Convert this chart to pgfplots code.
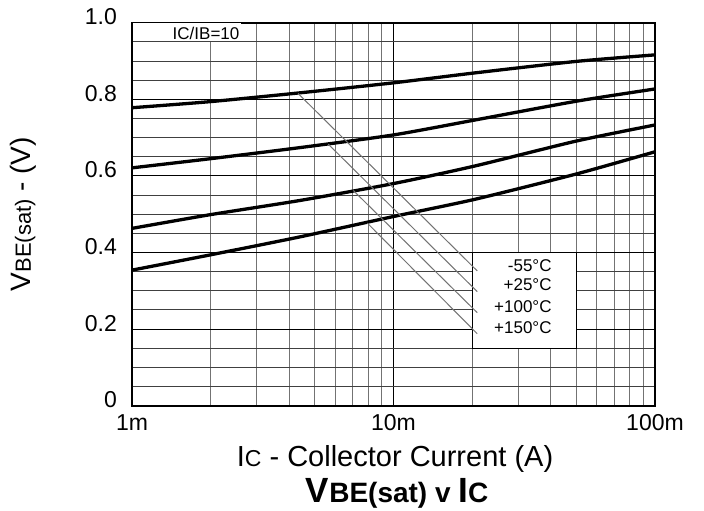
\documentclass[border=0pt]{standalone}
\usepackage{fontspec}
\setmainfont{Liberation Sans}
\usepackage{pgfplots}
\pgfplotsset{compat=1.18}

\begin{document}
\begin{tikzpicture}
% frame of the whole picture (704 x 510 px at 0.5pt per px)
\path[use as bounding box] (-66pt,-52.15pt) rectangle (286pt,202.85pt);
\begin{axis}[
    width=261.5pt, height=191.5pt, scale only axis,
    xmode=log, xmin=1e-3, xmax=1e-1,
    ymin=0, ymax=1,
    xtick={1e-3,1e-2,1e-1}, xticklabels={1m,10m,100m},
    minor xtick={2e-3,3e-3,4e-3,5e-3,6e-3,7e-3,8e-3,9e-3,2e-2,3e-2,4e-2,5e-2,6e-2,7e-2,8e-2,9e-2},
    ytick={0,0.2,0.4,0.6,0.8,1.0}, yticklabels={0,0.2,0.4,0.6,0.8,1.0},
    minor y tick num=3,
    grid=both,
    major tick length=0pt, minor tick length=0pt,
    major grid style={black, line width=0.5pt},
    minor x grid style={black!55, line width=0.5pt},
    minor y grid style={black!75, line width=0.5pt},
    axis line style={black, line width=0.8pt},
    tick label style={font=\fontsize{11.5}{13}\selectfont},
    yticklabel style={yshift=3pt, xshift=-4pt},
    xticklabel style={yshift=-1pt},
    xlabel={{\fontsize{14.5}{17}\selectfont I}{\fontsize{11.5}{13}\selectfont C}{\fontsize{14.5}{17}\selectfont\ - Collector Current (A)}},
    xlabel style={at={(axis description cs:0.503,-0.138)}, anchor=center},
    ylabel={{\fontsize{14}{16}\selectfont V}{\fontsize{11}{13}\selectfont BE(sat)}{\fontsize{14}{16}\selectfont\ - (V)}},
    ylabel style={at={(axis description cs:-0.207,0.5)}, anchor=center},
    title={\bfseries{\fontsize{17.5}{20}\selectfont V}{\fontsize{14}{16}\selectfont BE(sat) v }{\fontsize{17.5}{20}\selectfont I}{\fontsize{14}{16}\selectfont C}},
    title style={at={(axis description cs:0.507,-0.26)}, anchor=center},
]
% white label boxes
\addplot[fill=white, draw=none] coordinates {(1.01e-3,0.952) (2.6e-3,0.952) (2.6e-3,0.998) (1.01e-3,0.998)} --cycle;
\addplot[fill=white, draw=black, line width=0.5pt] coordinates {(2e-2,0.15) (5e-2,0.15) (5e-2,0.4) (2e-2,0.4)} --cycle;

% V_BE(sat) curves: -55, +25, +100, +150 degC
\addplot[black, line width=1.65pt, smooth, tension=0.4] coordinates {
 (1e-3,0.778) (2e-3,0.794) (4.4e-3,0.817) (1e-2,0.843) (2.05e-2,0.869) (5e-2,0.899) (1e-1,0.916)};
\addplot[black, line width=1.65pt, smooth, tension=0.4] coordinates {
 (1e-3,0.621) (2e-3,0.645) (4.4e-3,0.674) (1e-2,0.707) (2.05e-2,0.746) (5e-2,0.795) (1e-1,0.827)};
\addplot[black, line width=1.65pt, smooth, tension=0.4] coordinates {
 (1e-3,0.463) (2e-3,0.499) (4.4e-3,0.536) (1e-2,0.580) (2.05e-2,0.626) (5e-2,0.691) (1e-1,0.733)};
\addplot[black, line width=1.65pt, smooth, tension=0.4] coordinates {
 (1e-3,0.354) (2e-3,0.394) (4.4e-3,0.441) (1e-2,0.494) (2.05e-2,0.539) (5e-2,0.605) (1e-1,0.663)};

% leader lines
\addplot[black!55, line width=0.5pt] coordinates {(4.32e-3,0.815) (20.9e-3,0.352)};
\addplot[black!55, line width=0.5pt] coordinates {(5.63e-3,0.683) (20.9e-3,0.298)};
\addplot[black!55, line width=0.5pt] coordinates {(7.02e-3,0.562) (20.9e-3,0.243)};
\addplot[black!55, line width=0.5pt] coordinates {(7.94e-3,0.477) (20.9e-3,0.188)};

\node[font=\fontsize{8.5}{10}\selectfont] at (axis cs:1.92e-3,0.972) {IC/IB=10};
\node[anchor=east, font=\fontsize{8.5}{10}\selectfont] at (axis cs:42.8e-3,0.367) {-55°C};
\node[anchor=east, font=\fontsize{8.5}{10}\selectfont] at (axis cs:42.8e-3,0.315) {+25°C};
\node[anchor=east, font=\fontsize{8.5}{10}\selectfont] at (axis cs:42.8e-3,0.258) {+100°C};
\node[anchor=east, font=\fontsize{8.5}{10}\selectfont] at (axis cs:42.8e-3,0.204) {+150°C};
\end{axis}
\end{tikzpicture}
\end{document}
